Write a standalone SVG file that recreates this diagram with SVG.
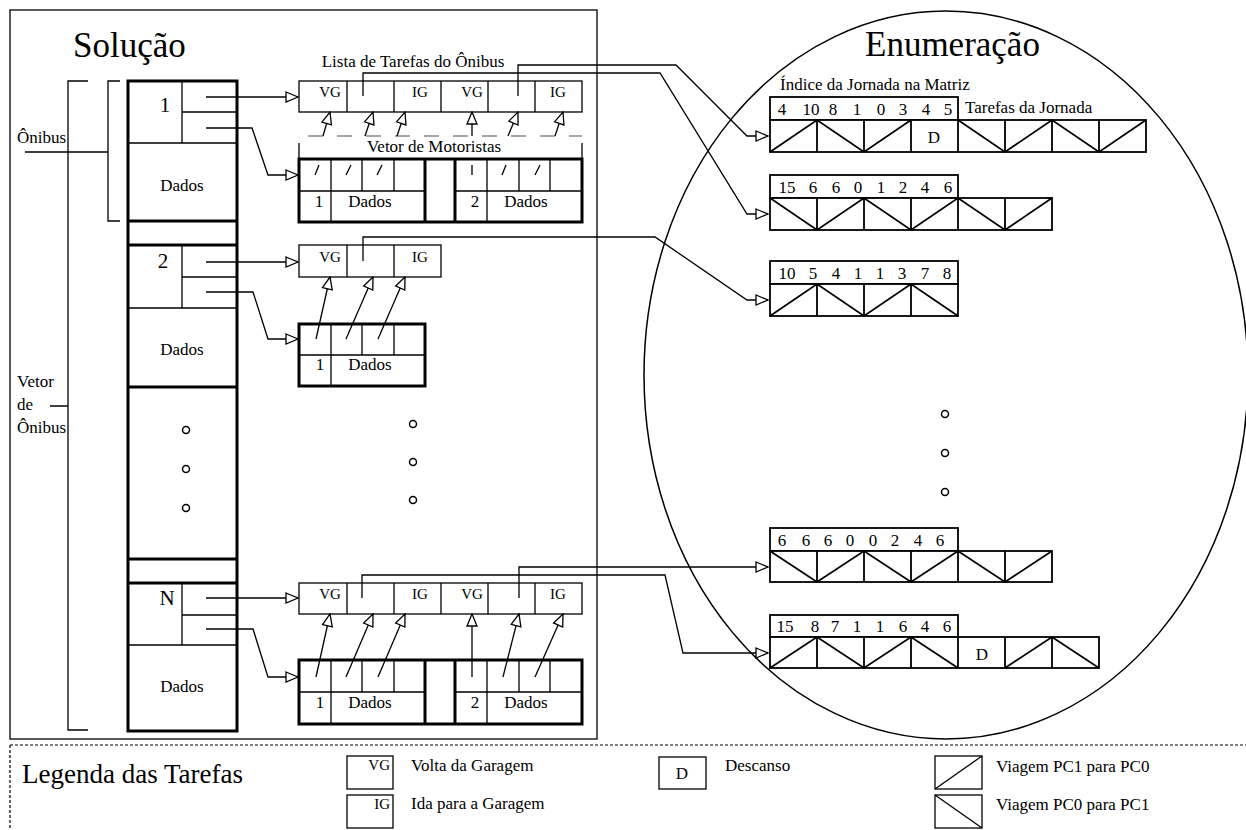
<svg xmlns="http://www.w3.org/2000/svg" width="1246" height="830" viewBox="0 0 1246 830">
<style>
.t{font-family:"Liberation Serif","Times New Roman",serif;fill:#000}
.m{text-anchor:middle}
.s15{font-size:15px}.s17{font-size:17px}.s21{font-size:21px}.s27{font-size:27px}.s35{font-size:35px}
.thin{fill:none;stroke:#000;stroke-width:1.3}
.thick{fill:none;stroke:#000;stroke-width:3}
.cell{fill:#fff;stroke:#000;stroke-width:1.3}
.box{fill:#fff;stroke:#000;stroke-width:3}
.en{fill:#fff;stroke:#000;stroke-width:1.8}
.enl{fill:none;stroke:#000;stroke-width:1.8}
.con{fill:none;stroke:#000;stroke-width:1.3}
.arr{marker-end:url(#ah)}
.dot{fill:#fff;stroke:#000;stroke-width:1.5}
</style>
<defs>
<marker id="ah" viewBox="0 0 14 12" refX="13" refY="6" markerWidth="14" markerHeight="12" markerUnits="userSpaceOnUse" orient="auto">
<path d="M1,1 L13,6 L1,11 Z" fill="#fff" stroke="#000" stroke-width="1.3"/>
</marker>
</defs>
<rect width="1246" height="830" fill="#fff"/>

<!-- frames -->
<rect x="10" y="10" width="587" height="729" class="thin"/>
<ellipse cx="946" cy="375" rx="302" ry="364" fill="none" stroke="#000" stroke-width="1.5"/>
<text x="73" y="57" class="t s35">Solução</text>
<text x="865" y="56" class="t s35">Enumeração</text>

<!-- brackets -->
<g id="brackets">
<path class="thin" d="M88,81 H68 V730 H88 M50,406 H68"/>
<path class="thin" d="M120,81 H108 V221 H120 M25,152 H108"/>
<text x="17" y="143" class="t s17">Ônibus</text>
<text x="17" y="387" class="t s17">Vetor</text>
<text x="17" y="410" class="t s17">de</text>
<text x="17" y="433" class="t s17">Ônibus</text>
</g>

<!-- bus vector -->
<g id="vetor-onibus">
<rect x="128" y="81" width="109" height="650" class="box"/>
<path class="thick" d="M128,221 H237 M128,245 H237 M128,387 H237 M128,559 H237 M128,583 H237"/>
</g>
<g id="onibus-1">
<path class="thin" d="M182,81 V143 M182,112 H237 M128,143 H237"/>
<text x="165" y="112" class="t s21 m">1</text>
<text x="182" y="191" class="t s17 m">Dados</text>
</g>
<g id="onibus-2">
<path class="thin" d="M182,245 V308 M182,277 H237 M128,308 H237"/>
<text x="163" y="268" class="t s21 m">2</text>
<text x="182" y="355" class="t s17 m">Dados</text>
</g>
<g id="onibus-dots">
<circle cx="186" cy="430" r="3.5" class="dot"/>
<circle cx="186" cy="469" r="3.5" class="dot"/>
<circle cx="186" cy="508" r="3.5" class="dot"/>
</g>
<g id="onibus-n">
<path class="thin" d="M182,583 V645 M182,615 H237 M128,645 H237"/>
<text x="167" y="605" class="t s21 m">N</text>
<text x="182" y="692" class="t s17 m">Dados</text>
</g>

<!-- bus 1 lists -->
<g id="lista-1">
<text x="413" y="67" class="t s17 m">Lista de Tarefas do Ônibus</text>
<rect x="299" y="81" width="283" height="31" class="cell"/>
<path class="thin" d="M347,81 V112 M394,81 V112 M441,81 V112 M488,81 V112 M535,81 V112"/>
<text x="330" y="97" class="t s15 m">VG</text>
<text x="420" y="97" class="t s15 m">IG</text>
<text x="472" y="97" class="t s15 m">VG</text>
<text x="558" y="97" class="t s15 m">IG</text>
</g>
<g id="motoristas-1">
<path d="M308,136 H582" fill="none" stroke="#888" stroke-width="1.3" stroke-dasharray="15 14"/>
<path class="thin" d="M299,143 V159 M582,143 V159"/>
<text x="434" y="152" class="t s17 m">Vetor de Motoristas</text>
<rect x="299" y="159" width="283" height="63" class="box"/>
<path class="thick" d="M425,159 V222 M455,159 V222"/>
<path class="thin" d="M299,191 H425 M455,191 H582 M331,159 V222 M362,159 V191 M394,159 V191 M487,159 V222 M519,159 V191 M550,159 V191"/>
<text x="319" y="207" class="t s17 m">1</text>
<text x="370" y="207" class="t s17 m">Dados</text>
<text x="475" y="207" class="t s17 m">2</text>
<text x="526" y="207" class="t s17 m">Dados</text>
</g>

<!-- bus 2 lists -->
<g id="lista-2">
<rect x="299" y="245" width="142" height="32" class="cell"/>
<path class="thin" d="M347,245 V277 M394,245 V277"/>
<text x="330" y="262" class="t s15 m">VG</text>
<text x="420" y="262" class="t s15 m">IG</text>
</g>
<g id="motoristas-2">
<rect x="299" y="324" width="126" height="62" class="box"/>
<path class="thin" d="M299,355 H425 M331,324 V386 M362,324 V355 M394,324 V355"/>
<text x="320" y="370" class="t s17 m">1</text>
<text x="370" y="370" class="t s17 m">Dados</text>
</g>
<g id="listas-dots">
<circle cx="413" cy="424" r="3.5" class="dot"/>
<circle cx="413" cy="462" r="3.5" class="dot"/>
<circle cx="413" cy="500" r="3.5" class="dot"/>
</g>

<!-- bus N lists -->
<g id="lista-n">
<rect x="299" y="583" width="283" height="31" class="cell"/>
<path class="thin" d="M347,583 V614 M394,583 V614 M441,583 V614 M488,583 V614 M535,583 V614"/>
<text x="330" y="599" class="t s15 m">VG</text>
<text x="420" y="599" class="t s15 m">IG</text>
<text x="472" y="599" class="t s15 m">VG</text>
<text x="558" y="599" class="t s15 m">IG</text>
</g>
<g id="motoristas-n">
<rect x="299" y="660" width="283" height="64" class="box"/>
<path class="thick" d="M425,660 V724 M455,660 V724"/>
<path class="thin" d="M299,692 H425 M455,692 H582 M331,660 V724 M362,660 V692 M394,660 V692 M487,660 V724 M519,660 V692 M550,660 V692"/>
<text x="320" y="708" class="t s17 m">1</text>
<text x="370" y="708" class="t s17 m">Dados</text>
<text x="475" y="708" class="t s17 m">2</text>
<text x="526" y="708" class="t s17 m">Dados</text>
</g>

<!-- enumeration -->
<g id="enum-labels">
<text x="780" y="90" class="t s17">Índice da Jornada na Matriz</text>
<text x="965" y="113" class="t s17">Tarefas da Jornada</text>
</g>
<g id="jornada-1">
<rect x="770" y="97" width="188" height="23" class="en"/>
<rect x="770" y="120" width="376" height="32" class="en"/>
<path class="enl" d="M817,120 V152 M864,120 V152 M911,120 V152 M958,120 V152 M1005,120 V152 M1052,120 V152 M1099,120 V152 M770,152 L817,120 L864,152 L911,120 M958,120 L1005,152 L1052,120 L1099,152 L1146,120"/>
<g class="t s17 m"><text x="782" y="115">4</text><text x="811" y="115">10</text><text x="833" y="115">8</text><text x="857" y="115">1</text><text x="881" y="115">0</text><text x="903" y="115">3</text><text x="926" y="115">4</text><text x="948" y="115">5</text></g>
<text x="934" y="143" class="t s17 m">D</text>
</g>
<g id="jornada-2">
<rect x="770" y="175" width="188" height="23" class="en"/>
<rect x="770" y="198" width="282" height="32" class="en"/>
<path class="enl" d="M817,198 V230 M864,198 V230 M911,198 V230 M958,198 V230 M1005,198 V230 M770,198 L817,230 L864,198 L911,230 L958,198 L1005,230 L1052,198"/>
<g class="t s17 m"><text x="787" y="193">15</text><text x="813" y="193">6</text><text x="836" y="193">6</text><text x="858" y="193">0</text><text x="881" y="193">1</text><text x="903" y="193">2</text><text x="925" y="193">4</text><text x="948" y="193">6</text></g>
</g>
<g id="jornada-3">
<rect x="770" y="261" width="188" height="23" class="en"/>
<rect x="770" y="284" width="188" height="32" class="en"/>
<path class="enl" d="M817,284 V316 M864,284 V316 M911,284 V316 M770,316 L817,284 L864,316 L911,284 L958,316"/>
<g class="t s17 m"><text x="787" y="279">10</text><text x="813" y="279">5</text><text x="836" y="279">4</text><text x="858" y="279">1</text><text x="880" y="279">1</text><text x="902" y="279">3</text><text x="925" y="279">7</text><text x="947" y="279">8</text></g>
</g>
<g id="enum-dots">
<circle cx="945" cy="414" r="3.5" class="dot"/>
<circle cx="945" cy="453" r="3.5" class="dot"/>
<circle cx="945" cy="492" r="3.5" class="dot"/>
</g>
<g id="jornada-4">
<rect x="770" y="528" width="188" height="23" class="en"/>
<rect x="770" y="551" width="282" height="31" class="en"/>
<path class="enl" d="M817,551 V582 M864,551 V582 M911,551 V582 M958,551 V582 M1005,551 V582 M770,551 L817,582 L864,551 L911,582 L958,551 L1005,582 L1052,551"/>
<g class="t s17 m"><text x="782" y="546">6</text><text x="806" y="546">6</text><text x="828" y="546">6</text><text x="850" y="546">0</text><text x="873" y="546">0</text><text x="895" y="546">2</text><text x="918" y="546">4</text><text x="940" y="546">6</text></g>
</g>
<g id="jornada-5">
<rect x="770" y="615" width="188" height="22" class="en"/>
<rect x="770" y="637" width="329" height="31" class="en"/>
<path class="enl" d="M817,637 V668 M864,637 V668 M911,637 V668 M958,637 V668 M1005,637 V668 M1052,637 V668 M770,668 L817,637 L864,668 L911,637 L958,668 M1005,668 L1052,637 L1099,668"/>
<g class="t s17 m"><text x="785" y="632">15</text><text x="815" y="632">8</text><text x="835" y="632">7</text><text x="857" y="632">1</text><text x="880" y="632">1</text><text x="903" y="632">6</text><text x="925" y="632">4</text><text x="947" y="632">6</text></g>
<text x="982" y="660" class="t s17 m">D</text>
</g>

<!-- connectors -->
<g id="connectors" class="con">
<path class="arr" d="M206,97 H298"/>
<path class="arr" d="M206,128 H252 L268,175 H298"/>
<path class="arr" d="M206,262 H298"/>
<path class="arr" d="M206,292 H253 L268,339 H298"/>
<path class="arr" d="M206,598 H298"/>
<path class="arr" d="M206,629 H253 L268,677 H298"/>
<path class="arr" d="M518,96 V65 H676 L747,136 H768"/>
<path class="arr" d="M363,96 V73 H660 L747,214 H768"/>
<path class="arr" d="M363,261 V237 H655 L747,300 H768"/>
<path class="arr" d="M519,598 V567 H768"/>
<path class="arr" d="M362,598 V575 H665 L683,653 H768"/>
<path d="M315,175 L319,165 M346,175 L351,165 M377,175 L382,165 M472,175 V165 M502,175 L506,165 M535,175 L540,165"/>
<path class="arr" d="M323,136 L330,112"/>
<path class="arr" d="M365,136 L373,112"/>
<path class="arr" d="M397,136 L405,112"/>
<path class="arr" d="M472,136 V112"/>
<path class="arr" d="M508,136 L518,112"/>
<path class="arr" d="M555,136 L563,112"/>
<path class="arr" d="M316,339 L330,277"/>
<path class="arr" d="M346,339 L373,277"/>
<path class="arr" d="M378,339 L405,277"/>
<path class="arr" d="M316,677 L330,614"/>
<path class="arr" d="M346,677 L373,614"/>
<path class="arr" d="M378,677 L405,614"/>
<path class="arr" d="M472,677 V614"/>
<path class="arr" d="M503,677 L519,614"/>
<path class="arr" d="M535,677 L563,614"/>
</g>

<!-- legend -->
<g id="legenda">
<path d="M10,745 H1246 M10,745 V830" fill="none" stroke="#000" stroke-width="1.2" stroke-dasharray="3 2"/>
<text x="22" y="783" class="t s27">Legenda das Tarefas</text>
<rect x="347" y="756" width="46" height="33" class="cell"/>
<text x="390" y="770" class="t s15" text-anchor="end">VG</text>
<text x="411" y="771" class="t s17">Volta da Garagem</text>
<rect x="347" y="795" width="46" height="33" class="cell"/>
<text x="390" y="809" class="t s15" text-anchor="end">IG</text>
<text x="411" y="809" class="t s17">Ida para a Garagem</text>
<rect x="659" y="757" width="47" height="32" class="cell"/>
<text x="682" y="779" class="t s17 m">D</text>
<text x="725" y="771" class="t s17">Descanso</text>
<rect x="935" y="756" width="47" height="33" class="cell"/>
<path class="thin" d="M935,789 L982,756"/>
<text x="996" y="772" class="t s17">Viagem PC1 para PC0</text>
<rect x="935" y="795" width="47" height="33" class="cell"/>
<path class="thin" d="M935,795 L982,828"/>
<text x="996" y="810" class="t s17">Viagem PC0 para PC1</text>
</g>
</svg>
